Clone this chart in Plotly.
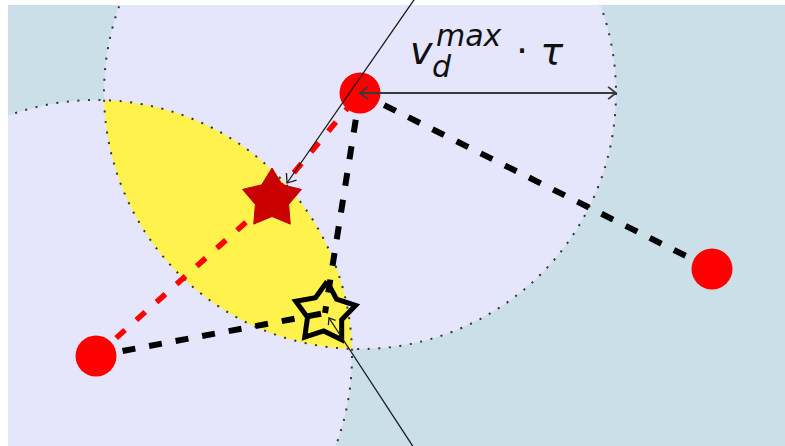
import numpy as np
import plotly.graph_objects as go

# ---- scene data (drawing units: x to the right, y downward) ----
canvas_w, canvas_h = 785, 446
panel_x = [8, 785]
panel_y = [5, 446]

# agents (red dots)
agent_x = [360, 96, 712]
agent_y = [93, 356, 269]

# reachable discs of the two agents, radius = v_d^max * tau
disc_cx = [360, 96]
disc_cy = [93, 356]
disc_r = [256, 256]

# candidate positions
goal_x, goal_y = 272, 199      # filled star
new_x, new_y = 325, 313        # open star

# dashed links
red_link_x = [96, 272, 360]
red_link_y = [356, 199, 93]
black_links = [
    ([360, 712], [93, 269]),
    ([360, 325], [93, 313]),
    ([96, 325], [356, 313]),
]

# thin vectors (tail -> head)
vec_a_x, vec_a_y = [416, 287], [-3, 183]
vec_b_x, vec_b_y = [414, 329], [448, 318]

# colours
bg_blue = "#cbdfe9"
lavender = "#e5e5fb"
lens_yellow = "#fff24c"
dot_red = "#ff0000"
star_red = "#c80000"

fig = go.Figure()


def circle_pts(cx, cy, r, n=3000):
    t = np.linspace(0, 2 * np.pi, n, endpoint=False)
    return np.c_[cx + r * np.cos(t), cy + r * np.sin(t)]


# lens = intersection of the two discs, boundary built from arc samples
p0 = circle_pts(disc_cx[0], disc_cy[0], disc_r[0])
p1 = circle_pts(disc_cx[1], disc_cy[1], disc_r[1])
in0 = np.hypot(p0[:, 0] - disc_cx[1], p0[:, 1] - disc_cy[1]) <= disc_r[1]
in1 = np.hypot(p1[:, 0] - disc_cx[0], p1[:, 1] - disc_cy[0]) <= disc_r[0]
lens = np.vstack([p0[in0], p1[in1]])
cen = lens.mean(axis=0)
lens = lens[np.argsort(np.arctan2(lens[:, 1] - cen[1], lens[:, 0] - cen[0]))]
lens_path = "M" + "L".join(f"{x:.2f},{y:.2f}" for x, y in lens) + "Z"

shapes = [
    dict(type="rect", x0=panel_x[0], x1=panel_x[1], y0=panel_y[0], y1=panel_y[1],
         fillcolor=bg_blue, line_width=0, layer="below"),
]
for cx, cy, r in zip(disc_cx, disc_cy, disc_r):
    shapes.append(dict(type="circle", x0=cx - r, x1=cx + r, y0=cy - r, y1=cy + r,
                       fillcolor=lavender, line_width=0, layer="below"))
shapes.append(dict(type="path", path=lens_path, fillcolor=lens_yellow,
                   line_width=0, layer="below"))
for cx, cy, r in zip(disc_cx, disc_cy, disc_r):
    shapes.append(dict(type="circle", x0=cx - r, x1=cx + r, y0=cy - r, y1=cy + r,
                       fillcolor="rgba(0,0,0,0)", layer="below",
                       line=dict(color="#333333", width=2, dash="2px,8.6px")))
# white page border outside the panel
shapes.append(dict(type="rect", x0=0, x1=canvas_w, y0=0, y1=panel_y[0],
                   fillcolor="white", line_width=0, layer="below"))
shapes.append(dict(type="rect", x0=0, x1=panel_x[0], y0=0, y1=canvas_h,
                   fillcolor="white", line_width=0, layer="below"))

# dashed links
fig.add_trace(go.Scatter(x=red_link_x, y=red_link_y, mode="lines",
                         line=dict(color=dot_red, width=5.5, dash="12px,15px")))
for lx, ly in black_links:
    fig.add_trace(go.Scatter(x=lx, y=ly, mode="lines",
                             line=dict(color="black", width=6, dash="13px,14px")))

# agents
fig.add_trace(go.Scatter(x=agent_x, y=agent_y, mode="markers",
                         marker=dict(size=41, color=dot_red, line_width=0)))


def star_outline(cx, cy, r_out, r_in, rot_deg=0.0):
    k = np.arange(11)
    ang = np.radians(-90 + rot_deg + 36 * k)
    rad = np.where(k % 2 == 0, r_out, r_in)
    return list(cx + rad * np.cos(ang)), list(cy + rad * np.sin(ang))


sx, sy = star_outline(goal_x, goal_y, 31, 17.5)
fig.add_trace(go.Scatter(x=sx, y=sy, mode="lines", fill="toself", fillcolor=star_red,
                         line=dict(color=star_red, width=1)))
sx, sy = star_outline(new_x, new_y, 31.5, 18, rot_deg=4)
fig.add_trace(go.Scatter(x=sx, y=sy, mode="lines",
                         line=dict(color="black", width=5)))


def chevron(xs, ys, length, half_angle):
    tail = np.array([xs[0], ys[0]], float)
    tip = np.array([xs[1], ys[1]], float)
    d = (tail - tip) / np.linalg.norm(tail - tip)
    pts = []
    for s in (1, -1):
        a = np.radians(s * half_angle)
        rot = np.array([[np.cos(a), -np.sin(a)], [np.sin(a), np.cos(a)]])
        pts.append(tip + length * rot @ d)
    return [pts[0][0], tip[0], pts[1][0]], [pts[0][1], tip[1], pts[1][1]]


def arrow(xs, ys, color, width, head_len, heads=("end",)):
    fig.add_trace(go.Scatter(x=xs, y=ys, mode="lines", line=dict(color=color, width=width)))
    if "end" in heads:
        cx, cy = chevron(xs, ys, head_len, 38)
        fig.add_trace(go.Scatter(x=cx, y=cy, mode="lines", line=dict(color=color, width=width)))
    if "start" in heads:
        cx, cy = chevron(xs[::-1], ys[::-1], head_len, 38)
        fig.add_trace(go.Scatter(x=cx, y=cy, mode="lines", line=dict(color=color, width=width)))


arrow(vec_a_x, vec_a_y, "#1a1a1a", 1.3, 10)
arrow(vec_b_x, vec_b_y, "#1a1a1a", 1.3, 7)
# radius arrow from the agent to the edge of its disc
rad_x = [disc_cx[0], disc_cx[0] + disc_r[0]]
rad_y = [disc_cy[0], disc_cy[0]]
arrow(rad_x, rad_y, "#3a3a3a", 1.8, 10, heads=("start", "end"))

font = "DejaVu Sans"
ann = [
    dict(x=410, y=51, text="<i>v</i>", size=38),
    dict(x=432, y=66, text="<i>d</i>", size=30),
    dict(x=436, y=35, text="<i>max</i>", size=30),
    dict(x=516, y=51, text="· <i>τ</i>", size=38),
]
annotations = [
    dict(x=a["x"], y=a["y"], xref="x", yref="y", text=a["text"], showarrow=False,
         xanchor="left", yanchor="middle", borderpad=0, borderwidth=0,
         font=dict(family=font, size=a["size"], color="#111111"))
    for a in ann
]

fig.update_layout(
    width=canvas_w, height=canvas_h,
    margin=dict(l=0, r=0, t=0, b=0, pad=0),
    paper_bgcolor="white", plot_bgcolor="white",
    showlegend=False,
    shapes=shapes, annotations=annotations,
    xaxis=dict(range=[0, canvas_w], visible=False, fixedrange=True),
    yaxis=dict(range=[canvas_h, 0], visible=False, fixedrange=True),
)

fig.write_html("out.html")
